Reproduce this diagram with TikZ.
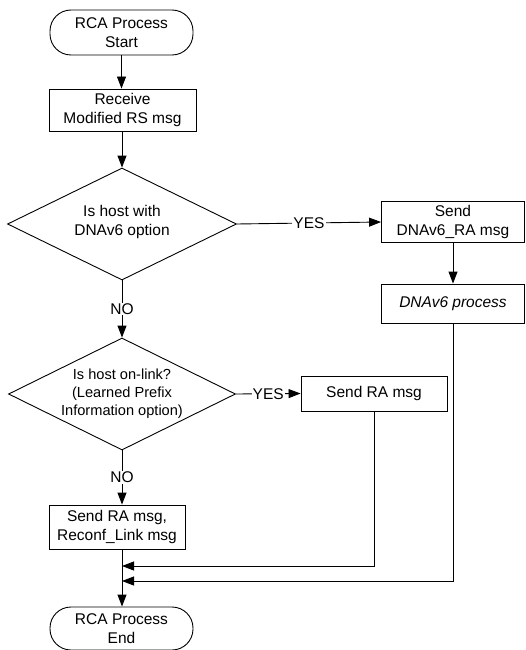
\documentclass[tikz,border=0pt]{standalone}
\usepackage{fontspec}
\setmainfont{Liberation Sans}
\usetikzlibrary{arrows.meta,shapes.geometric}
\begin{document}
\begin{tikzpicture}[x=1pt,y=-1pt,
  every node/.style={font=\fontsize{15.5}{19.5}\selectfont},
  ln/.style={line width=0.9pt, draw=black},
  arr/.style={ln, -{Triangle[length=12pt,width=9pt]}},
  term/.style={draw, line width=0.9pt, rounded corners=21pt, align=center, inner sep=0pt},
  procbox/.style={draw, line width=0.9pt, align=center, inner sep=0pt},
  decision/.style={draw, line width=0.9pt, diamond, inner sep=0pt, aspect=2},
  lbl/.style={fill=white, inner sep=1pt}
]
\useasboundingbox (0,0) rectangle (526,650);

\node[term, minimum width=143pt, minimum height=45pt] (start) at (121.5,32.5) {RCA Process\\Start};
\node[procbox, minimum width=147pt, minimum height=42pt] (recv) at (122.5,110) {Receive\\Modified RS msg};
\node[decision, minimum width=229pt, minimum height=112pt] (d1) at (122,224) {};
\node[align=center] (d1t) at (122,222) {Is host with\\DNAv6 option};
\node[procbox, minimum width=143pt, minimum height=41pt] (dnra) at (453,222) {Send\\DNAv6\_RA msg};
\node[procbox, minimum width=143pt, minimum height=39pt] (dnp) at (453,303.5) {\itshape DNAv6 process};
\node[decision, minimum width=227pt, minimum height=112pt] (d2) at (122,394) {};
\node[align=center, font=\fontsize{14.6}{18}\selectfont] (d2t) at (122,394) {Is host on-link?\\(Learned Prefix\\Information option)};
\node[procbox, minimum width=146pt, minimum height=35pt] (sra) at (374,393.5) {Send RA msg};
\node[procbox, minimum width=136pt, minimum height=44pt] (srl) at (117,527) {Send RA msg,\\Reconf\_Link msg};
\node[term, minimum width=143pt, minimum height=43pt] (end) at (121.5,628.5) {RCA Process\\End};

\coordinate (j1) at (122,566);
\coordinate (j2) at (122,581);

\draw[arr] (start.south) -- (recv.north -| start.south);
\draw[arr] (recv.south -| d1.north) -- (d1.north);
\draw[arr] (d1.east) -- node[lbl] (yes1) {YES} (dnra.west);
\draw[arr] (d1.south) -- node[lbl] (no1) {NO} (d2.north);
\draw[arr] (dnra.south) -- (dnp.north);
\draw[arr] (d2.east) -- node[lbl] (yes2) {YES} (sra.west);
\draw[arr] (d2.south) -- node[lbl] (no2) {NO} (d2.south |- srl.north);
\draw[arr] (srl.south -| d2.south) -- (end.north -| d2.south);
\draw[arr] (sra.south) |- (j1);
\draw[arr] (dnp.south) |- (j2);
\end{tikzpicture}
\end{document}
